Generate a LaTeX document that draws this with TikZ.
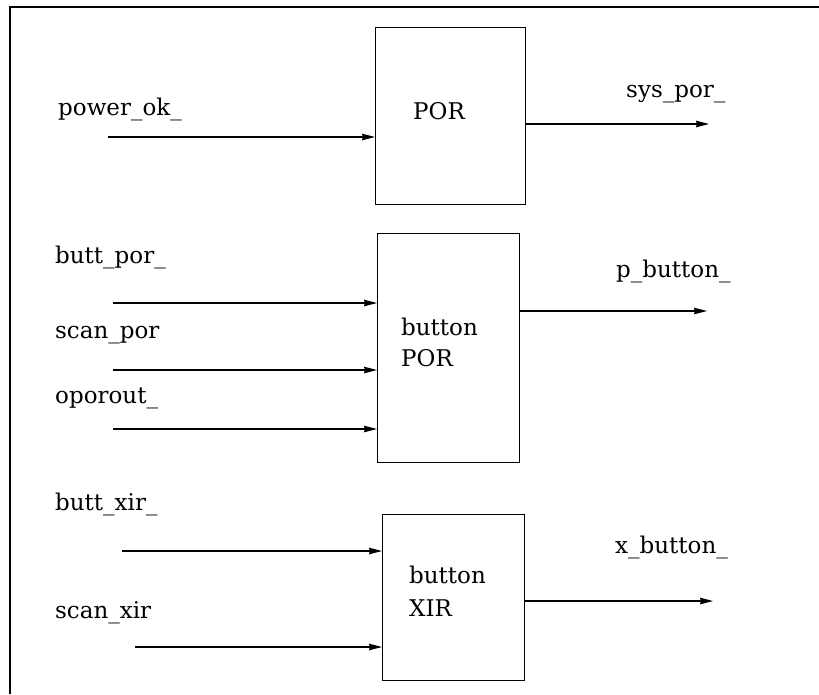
\documentclass[tikz,border=0pt]{standalone}
\usepackage{fontspec}
\setmainfont{DejaVu Serif}
\usetikzlibrary{arrows.meta}
\begin{document}
\begin{tikzpicture}[x=1pt,y=-1pt,
  lbl/.style={anchor=base west,inner sep=0pt,font=\fontsize{23}{31}\selectfont},
  blk/.style={draw,line width=1.1pt,anchor=north west,inner sep=0pt},
  sig/.style={line width=1.1pt,-{Stealth[length=13pt,width=6.5pt,inset=1pt]}},
  frm/.style={line width=1.2pt}]
\useasboundingbox (0,0) rectangle (819,694);
% frame (top and left only)
\coordinate (fa) at (10,694);
\coordinate (fb) at (10,7);
\coordinate (fc) at (819,7);
\draw[frm] (fa) -- (fb) -- (fc);
% boxes
\node[blk,minimum width=150pt,minimum height=177pt] (por) at (375,27) {};
\node[blk,minimum width=142pt,minimum height=229pt] (bpor) at (377,233) {};
\node[blk,minimum width=142pt,minimum height=166pt] (bxir) at (382,514) {};
% box texts
\node[lbl] (tpor) at (413,119) {POR};
\node[lbl] (tb1) at (401,335) {button};
\node[lbl] (tb2) at (401,366) {POR};
\node[lbl] (tx1) at (409,583) {button};
\node[lbl] (tx2) at (409,616) {XIR};
% signal labels
\node[lbl] (lpok) at (58,115) {power\_ok\_};
\node[lbl] (lsys) at (626,97) {sys\_por\_};
\node[lbl] (lbp) at (55,263) {butt\_por\_};
\node[lbl] (lsp) at (55,338) {scan\_por};
\node[lbl] (lop) at (55,403) {oporout\_};
\node[lbl] (lpb) at (616,277) {p\_button\_};
\node[lbl] (lbx) at (55,510) {butt\_xir\_};
\node[lbl] (lsx) at (55,618) {scan\_xir};
\node[lbl] (lxb) at (615,553) {x\_button\_};
% connector ends
\coordinate (s1) at (108,137);
\coordinate (o1) at (709,124);
\coordinate (s2) at (113,303);
\coordinate (s3) at (113,370);
\coordinate (s4) at (113,429);
\coordinate (o2) at (707,311);
\coordinate (s5) at (122,551);
\coordinate (s6) at (135,647);
\coordinate (o3) at (713,601);
% connectors
\draw[sig] (s1) -- (s1 -| por.west);
\draw[sig] (o1 -| por.east) -- (o1);
\draw[sig] (s2) -- (s2 -| bpor.west);
\draw[sig] (s3) -- (s3 -| bpor.west);
\draw[sig] (s4) -- (s4 -| bpor.west);
\draw[sig] (o2 -| bpor.east) -- (o2);
\draw[sig] (s5) -- (s5 -| bxir.west);
\draw[sig] (s6) -- (s6 -| bxir.west);
\draw[sig] (o3 -| bxir.east) -- (o3);
\end{tikzpicture}
\end{document}
